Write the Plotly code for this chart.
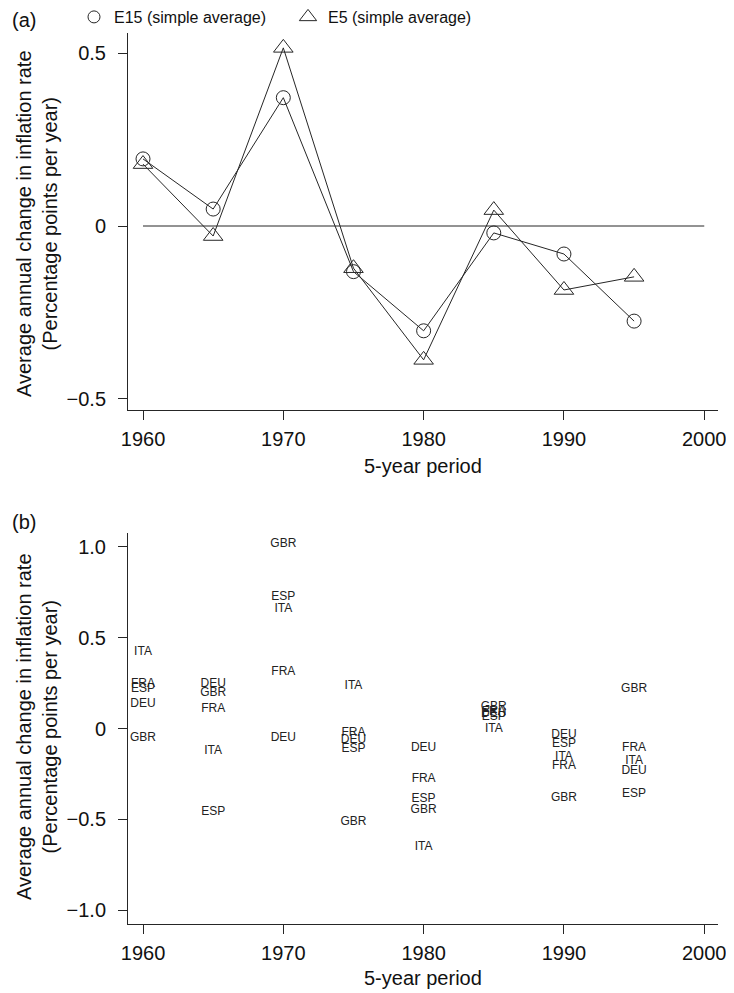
import plotly.graph_objects as go

# the page body keeps its default 8px margin, so the figure is drawn 8px in
PAGE_W, PAGE_H, BODY = 734, 993, 8
W, H = PAGE_W - BODY, PAGE_H - BODY

# 5-year periods
periods = [1960, 1965, 1970, 1975, 1980, 1985, 1990, 1995]

# panel (a): simple averages
e15 = [0.194, 0.049, 0.371, -0.132, -0.303, -0.020, -0.081, -0.275]
e5 = [0.179, -0.029, 0.515, -0.122, -0.387, 0.046, -0.185, -0.147]

# panel (b): individual countries
gbr = [-0.052, 0.194, 1.016, -0.515, -0.449, 0.119, -0.383, 0.218]
fra = [0.244, 0.108, 0.311, -0.024, -0.278, 0.093, -0.207, -0.107]
deu = [0.135, 0.244, -0.052, -0.063, -0.107, 0.080, -0.035, -0.234]
ita = [0.421, -0.124, 0.657, 0.234, -0.652, -0.003, -0.157, -0.178]
esp = [0.219, -0.460, 0.725, -0.113, -0.388, 0.063, -0.086, -0.361]
countries = {'GBR': gbr, 'FRA': fra, 'DEU': deu, 'ITA': ita, 'ESP': esp}

x_ticks = [1960, 1970, 1980, 1990, 2000]
ya_ticks = [0.5, 0, -0.5]
ya_labels = ['0.5', '0', '\u22120.5']
yb_ticks = [1.0, 0.5, 0, -0.5, -1.0]
yb_labels = ['1.0', '0.5', '0', '\u22120.5', '\u22121.0']

FONT = 'Liberation Sans, Arial, sans-serif'
INK = '#262626'

# page pixel -> paper fraction
def px_x(p):
    return (p - BODY) / W

def px_y(p):
    return 1 - (p - BODY) / H

fig = go.Figure()

# (a) lines with open markers
fig.add_trace(go.Scatter(
    x=periods, y=e15, mode='lines+markers', showlegend=False,
    line=dict(color=INK, width=1),
    marker=dict(symbol='circle-open', size=14, color=INK, line=dict(width=1)),
    xaxis='x', yaxis='y'))
fig.add_trace(go.Scatter(
    x=periods, y=e5, mode='lines+markers', showlegend=False,
    line=dict(color=INK, width=1),
    marker=dict(symbol='triangle-up-open', size=17, color=INK, line=dict(width=1)),
    xaxis='x', yaxis='y'))

# legend entries (markers only, like the original)
fig.add_trace(go.Scatter(x=[None], y=[None], mode='markers', name='E15 (simple average)',
                         marker=dict(symbol='circle-open', size=12, color=INK, line=dict(width=1))))
fig.add_trace(go.Scatter(x=[None], y=[None], mode='markers', name='E5 (simple average)',
                         marker=dict(symbol='triangle-up-open', size=15, color=INK, line=dict(width=1))))

# (b) country codes as text
for code, vals in countries.items():
    fig.add_trace(go.Scatter(
        x=periods, y=vals, mode='text', text=[code] * len(periods),
        textfont=dict(family=FONT, size=12, color='#222'), showlegend=False,
        xaxis='x2', yaxis='y2'))

# zero reference line in (a)
fig.add_shape(type='line', xref='x', yref='y', x0=x_ticks[0], x1=x_ticks[-1], y0=0, y1=0,
              line=dict(color=INK, width=1))

axis_common = dict(showline=True, linecolor=INK, linewidth=1, mirror=False,
                   ticks='outside', ticklen=9, tickcolor=INK, showgrid=False, zeroline=False,
                   automargin=False, tickfont=dict(family=FONT, size=20, color='#111'))
xdom = [px_x(128), px_x(718)]
xrange = [1958.93, 2000.98]

fig.update_layout(
    width=W, height=H, margin=dict(l=0, r=0, t=0, b=0, autoexpand=False),
    paper_bgcolor='white', plot_bgcolor='white',
    font=dict(family=FONT, color='#111'),
    xaxis=dict(domain=xdom, range=xrange, tickvals=x_ticks, anchor='y',
               ticklabelstandoff=2, **axis_common),
    yaxis=dict(domain=[px_y(410), px_y(33)], range=[-0.532, 0.558], tickvals=ya_ticks,
               ticktext=ya_labels, anchor='x', ticklabelstandoff=8, **axis_common),
    xaxis2=dict(domain=xdom, range=xrange, tickvals=x_ticks, anchor='y2',
                ticklabelstandoff=2, **axis_common),
    yaxis2=dict(domain=[px_y(924), px_y(533)], range=[-1.077, 1.077], tickvals=yb_ticks,
                ticktext=yb_labels, anchor='x2', ticklabelstandoff=8, **axis_common),
    legend=dict(orientation='h', x=px_x(74), y=px_y(0), xanchor='left', yanchor='top',
                entrywidth=169, entrywidthmode='pixels', bgcolor='rgba(0,0,0,0)',
                font=dict(family=FONT, size=16, color='#111'), itemwidth=30),
)

ytitle = 'Average annual change in inflation rate<br>(Percentage points per year)'
annos = [
    dict(text='(a)', x=px_x(10), y=px_y(20), xanchor='left'),
    dict(text='(b)', x=px_x(10), y=px_y(522), xanchor='left'),
    dict(text=ytitle, x=px_x(37), y=px_y(224), textangle=-90),
    dict(text=ytitle, x=px_x(37), y=px_y(727), textangle=-90),
    dict(text='5-year period', x=px_x(423), y=px_y(466)),
    dict(text='5-year period', x=px_x(423), y=px_y(978)),
]
for a in annos:
    fig.add_annotation(xref='paper', yref='paper', showarrow=False, yanchor='middle',
                       xanchor=a.get('xanchor', 'center'), textangle=a.get('textangle', 0),
                       x=a['x'], y=a['y'], text=a['text'],
                       font=dict(family=FONT, size=20, color='#111'))

fig.write_html('out.html')
